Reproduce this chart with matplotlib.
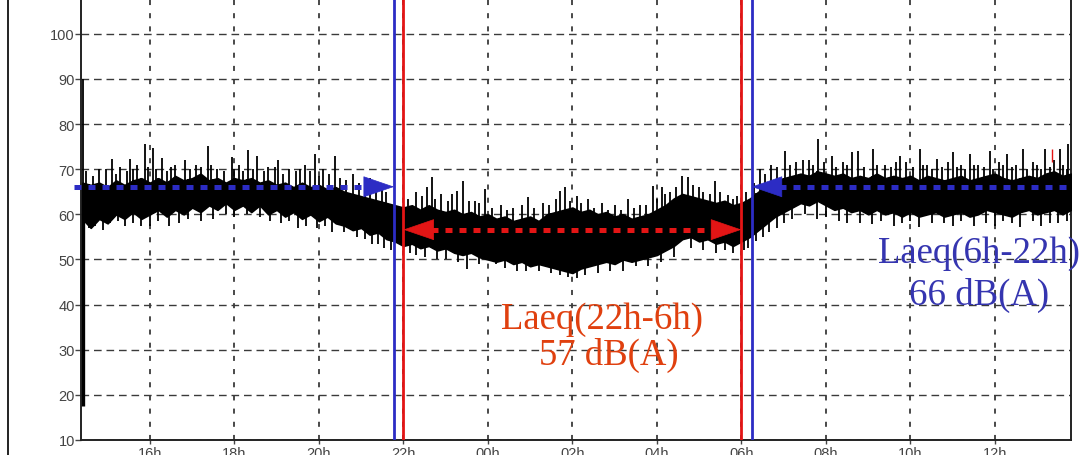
import numpy as np
import matplotlib
matplotlib.use("Agg")
import matplotlib.pyplot as plt
from matplotlib.lines import Line2D

# ---------------- data (hours, continuous: 24 = 00h next day) ----------------
t_start, t_step = 14.4, 0.2
band_lower = [59, 57, 59, 58, 60, 59, 60.5, 59, 60, 61, 59.5, 61, 60, 61.5, 60.5, 62, 61, 62.5,
              61, 62, 60.5, 62, 60, 61, 59.5, 60.5, 59, 60, 58.5, 59.5, 58, 57.5, 56.5, 57, 55.5, 56,
              54.5, 54, 53, 53.5, 52.5, 53, 52, 52.5, 51.5, 51, 51.5, 50.5, 50, 49.5, 50, 49, 49.5, 48.5,
              49, 48.5, 48, 47.5, 47, 48, 48.5, 49, 49.5, 49, 50, 49.5, 50, 50.5, 51, 52, 53, 54.5,
              55, 54, 54.5, 53.5, 54, 53, 54, 55, 56.5, 58, 59.5, 60.5, 61.5, 62.5, 62, 63, 62, 61,
              61.5, 60.5, 61, 60, 61, 60, 60.5, 59.5, 60.5, 59.5, 60, 60.5, 59.5, 60, 60.5, 59.5, 60, 61,
              60.5, 60, 59.5, 60.5, 61, 60, 60.5, 61, 60, 61]
band_upper = [67, 66.5, 67, 66, 67.5, 66.5, 67.5, 68, 67, 68, 67, 68.5, 67.5, 68, 69, 67.5, 68, 67,
              68, 67.5, 68, 67, 67.5, 66.5, 67, 66, 67, 66, 66.5, 65.5, 66, 65, 64.5, 64, 63.5, 63,
              62.5, 62, 61.5, 62, 61, 62, 61, 60.5, 61, 60, 60.5, 59.5, 60, 59, 59.5, 58.5, 59, 59.5,
              58.5, 60, 60.5, 61, 61.5, 60.5, 61, 60, 60.5, 59.5, 60, 59, 59.5, 60, 61, 62, 63.5, 64.5,
              64, 63.5, 63, 62.5, 63, 62, 62.5, 63.5, 65, 66.5, 67.5, 68, 68.5, 69, 68.5, 69.5, 69, 68.5,
              69, 68, 68.5, 68, 69, 68, 68.5, 68, 68.5, 67.5, 68.5, 68, 67.5, 68, 68.5, 67.5, 68, 68.5,
              69, 68, 67.5, 68, 68.5, 68, 69, 69.5, 68.5, 69]

spike_t = [14.41, 14.8, 15.10, 15.3, 15.53, 15.7, 15.88, 16.07, 16.28, 16.5, 16.83, 17.1, 17.37, 17.6,
           17.94, 18.1, 18.32, 18.53, 18.8, 19.03, 19.3, 19.67, 19.91, 20.1, 20.38, 20.8, 21.2, 21.5,
           22.3, 22.67, 22.9, 23.27, 23.41, 23.7, 23.93, 24.3, 24.6, 24.95, 25.3, 25.70, 25.82, 26.1,
           26.37, 26.7, 27.0, 27.31, 27.6, 27.91, 28.12, 28.3, 28.59, 28.73, 29.0, 29.37, 29.68, 29.9,
           30.1, 30.44, 30.7, 31.03, 31.3, 31.6, 31.81, 32.14, 32.4, 32.62, 32.76, 33.11, 33.4, 33.75,
           33.9, 34.22, 34.4, 34.63, 34.9, 35.01, 35.2, 35.41, 35.6, 35.88, 36.1, 36.28, 36.5, 36.66,
           36.9, 37.18, 37.4, 37.54, 37.73]
spike_top = [90, 70, 72.3, 70.5, 72.3, 71, 75.6, 74.7, 72.5, 70.5, 72, 71, 75.2, 70,
             72.7, 71, 74.3, 73, 70.5, 72, 70, 71, 73.4, 70, 73, 69, 68, 66,
             65, 68.3, 64.5, 65.2, 67.4, 63, 65.6, 62, 61.5, 63.9, 62.5, 65.2, 66, 64,
             63.4, 62.5, 62, 63.4, 62, 66.3, 66, 65, 68.5, 68.3, 66, 67.4, 64.2, 64,
             65, 70, 71, 74, 71.5, 72, 76.7, 73, 71.5, 73.8, 74, 74.5, 71, 73,
             71.5, 74.5, 71, 72.3, 71.5, 73.8, 71, 73.4, 71, 74, 71.5, 73.4, 71, 74.5,
             71.5, 74.5, 72, 74.5, 75.6]

minor_spike_t = [14.5, 14.65, 14.95, 15.2, 15.45, 15.6, 15.95, 16.15, 16.4, 16.6, 16.95, 17.2, 17.45,
                 17.75, 18.0, 18.2, 18.45, 18.7, 18.95, 19.15, 19.45, 19.55, 19.8, 20.0, 20.25, 20.5,
                 20.65, 20.95, 21.1, 21.35, 21.6,
                 22.1, 22.45, 22.55, 22.75, 23.05, 23.15, 23.55, 23.8, 24.1, 24.45, 24.8, 25.1, 25.45,
                 25.6, 25.95, 26.2, 26.5, 26.85, 27.15, 27.45, 27.75, 28.0, 28.2, 28.45, 28.85, 29.1,
                 29.25, 29.5, 29.8,
                 30.3, 30.55, 30.85, 31.15, 31.45, 31.7, 31.95, 32.25, 32.5, 32.9, 33.2, 33.55, 33.65,
                 34.05, 34.3, 34.5, 34.75, 35.1, 35.3, 35.5, 35.75, 35.95, 36.2, 36.4, 36.75, 37.0,
                 37.1, 37.3, 37.6, 37.7]
minor_spike_top = [69.5, 68.5, 70, 69, 69.5, 70, 70.5, 70, 69.5, 71, 70, 70.5, 71,
                   69.5, 70, 69.5, 70, 69.5, 70.5, 69, 69.5, 70, 69.5, 68.5, 69, 68,
                   67.5, 67, 66, 65.5, 65,
                   63.5, 64, 66, 63.5, 63, 64.5, 63, 62.5, 61.5, 61, 62, 61.5, 62,
                   63.5, 63, 62.5, 61.5, 61, 61, 61.5, 62, 63.5, 64.5, 66, 66.5, 65,
                   64.5, 65, 63.5,
                   67, 69, 70.5, 71, 72, 71, 71.5, 70.5, 71, 70.5, 71, 70.5, 71.5,
                   70.5, 71, 70, 70.5, 70.5, 70, 71, 70.5, 70, 71, 70.5, 70, 71,
                   70, 70.5, 71, 70]

dip_t = [14.55, 14.9, 15.4, 16.0, 16.7, 17.5, 18.6, 19.5, 20.3, 20.9, 21.4, 21.7,
         22.3, 22.8, 23.5, 24.2, 24.7, 25.5, 25.9, 26.3, 26.9, 27.5, 28.1, 29.1, 29.8, 30.15,
         30.5, 31.0, 31.8, 32.5, 33.1, 33.8, 34.2, 34.8, 35.5, 36.2, 36.6, 37.3, 37.7,
         14.45, 14.7, 15.05, 15.25, 15.6, 15.8, 16.2, 16.45, 16.9, 17.2, 17.8, 18.0, 18.3, 18.85,
         19.1, 19.3, 19.7, 19.95, 20.15, 20.6, 21.1, 21.25, 21.55,
         22.15, 22.5, 23.0, 23.3, 23.8, 24.4, 24.9, 25.2, 25.7, 26.1, 26.6, 27.2, 27.8, 28.4,
         28.8, 29.4, 29.6, 30.05,
         30.35, 30.65, 30.85, 31.2, 31.5, 32.0, 32.3, 32.8, 33.3, 33.6, 34.0, 34.5, 35.0, 35.2,
         35.8, 36.0, 36.4, 36.9, 37.1, 37.5]
dip_bottom = [57, 56.5, 57.5, 57.5, 58, 59, 59.5, 57, 56, 55, 53.5, 52,
              51, 50, 47.9, 49, 47.5, 47, 46.1, 46.5, 47.5, 48.5, 49.5, 52, 51.5, 52.5,
              55, 58, 59, 58, 57.9, 58, 57.2, 58, 57.5, 58.5, 57.2, 58, 58.5,
              56, 57.5, 58, 58.5, 58, 57.5, 58.5, 57.5, 59, 58.5, 60, 59.5, 60, 58.5,
              58, 58.5, 57.5, 57, 57.5, 56, 54.5, 53.5, 52.5,
              51.5, 50.5, 50, 49.5, 49, 48, 47.5, 47.5, 46.5, 46, 47, 47.5, 48.5, 50.5,
              52.5, 51.5, 52, 52,
              54, 56, 57, 59, 60, 59.5, 58.5, 58, 58.5, 57.5, 58.5, 58, 57.5, 58.5,
              58, 57.5, 58, 58.5, 57.5, 58]

start_t, start_low, start_high = 14.41, 17.5, 66
red_mark_t, red_mark_low, red_mark_high = 37.35, 71.6, 74.5

day_start, night_start, night_end, day_end = 21.78, 22.0, 30.0, 30.24
laeq_day, laeq_night = 66.1, 56.6
xlim = (14.37, 37.80)
ylim = (10, 107.7)
xticks = [16, 18, 20, 22, 24, 26, 28, 30, 32, 34, 36]
xtick_labels = ["16h", "18h", "20h", "22h", "00h", "02h", "04h", "06h", "08h", "10h", "12h"]
yticks = [10, 20, 30, 40, 50, 60, 70, 80, 90, 100]

night_label = ["Laeq(22h-6h)", "57 dB(A)"]
day_label = ["Laeq(6h-22h)", "66 dB(A)"]

# ---------------- figure ----------------
BLUE = "#2c2cc4"
RED = "#e31515"
fig = plt.figure(figsize=(10.85, 4.56), dpi=100)
ax = fig.add_axes([81 / 1085, 15 / 456, 990 / 1085, 441 / 456])
ax.set_xlim(*xlim)
ax.set_ylim(*ylim)

t = t_start + t_step * np.arange(len(band_lower))
ax.fill_between(t, band_lower, band_upper, color="black", lw=1.2, zorder=3)
all_spike_t = spike_t + minor_spike_t
all_spike_top = spike_top + minor_spike_top
ax.vlines(all_spike_t, np.interp(all_spike_t, t, band_lower), all_spike_top,
          color="black", lw=1.3, zorder=3)
ax.vlines(dip_t, dip_bottom, np.interp(dip_t, t, band_upper), color="black", lw=1.3, zorder=3)
ax.vlines([start_t], start_low, start_high, color="black", lw=2.4, zorder=3)
ax.vlines([red_mark_t], red_mark_low, red_mark_high, color=RED, lw=1.0, zorder=3)

# vertical period markers
for xv, c in [(day_start, BLUE), (night_start, RED), (night_end, RED), (day_end, BLUE)]:
    ax.axvline(xv, color=c, lw=2.0, zorder=5)

# dashed arrows
dash = (0, (1.4, 1.4))
def shaft(x0, x1, y, color, lw=3.6):
    ax.plot([x0, x1], [y, y], color=color, lw=lw, ls=dash, zorder=6, clip_on=False,
            solid_capstyle="butt", dash_capstyle="butt")

def head(tip, direction, y, color, length):
    ax.annotate("", xy=(tip, y), xytext=(tip - direction * length, y),
                arrowprops=dict(arrowstyle="-|>,head_length=2.1,head_width=0.72",
                                mutation_scale=10, fc=color, ec=color, lw=0.5,
                                shrinkA=0, shrinkB=0), zorder=7)

hl = 0.66
shaft(14.2, day_start - hl, laeq_day, BLUE)
head(day_start, 1, laeq_day, BLUE, hl)
shaft(day_end + hl, xlim[1], laeq_day, BLUE)
head(day_end, -1, laeq_day, BLUE, hl)
shaft(night_start + hl, night_end - hl, laeq_night, RED)
head(night_start, -1, laeq_night, RED, hl)
head(night_end, 1, laeq_night, RED, hl)

# grid
ax.set_axisbelow(True)
ax.set_xticks(xticks)
ax.set_xticklabels(xtick_labels)
ax.set_yticks(yticks)
ax.yaxis.grid(True, color="#3a3a3a", lw=1.0, ls=(0, (5.5, 3.5)))
ax.xaxis.grid(True, color="#3a3a3a", lw=1.3, ls=(0, (2.8, 4.5)))

for sp in ["left", "bottom", "right"]:
    ax.spines[sp].set_linewidth(1.4)
    ax.spines[sp].set_color("#222222")
ax.spines["top"].set_visible(False)
ax.tick_params(axis="y", length=4, width=1, pad=0.5, labelsize=10.5, labelcolor="#444444",
               color="#444444")
ax.tick_params(axis="x", length=3, width=1, pad=1.5, labelsize=10.5, labelcolor="#444444",
               color="#444444")
for lab in ax.get_xticklabels() + ax.get_yticklabels():
    lab.set_fontfamily("Liberation Sans")

# annotations
serif = dict(family="Liberation Serif", fontsize=26.5, ha="center", va="baseline", zorder=8)
ax.text(26.70, 34.83, night_label[0], color="#e0400f", **serif)
ax.text(26.85, 26.85, night_label[1], color="#e0400f", **serif)
ax.text(35.62, 49.46, day_label[0], color="#3535b0", **serif)
ax.text(35.62, 40.15, day_label[1], color="#3535b0", **serif)

# frame line at left of image
fig.add_artist(Line2D([8 / 1085, 8 / 1085], [0, 1], color="#222222", lw=1.4))

fig.savefig("out.png", dpi=100)
